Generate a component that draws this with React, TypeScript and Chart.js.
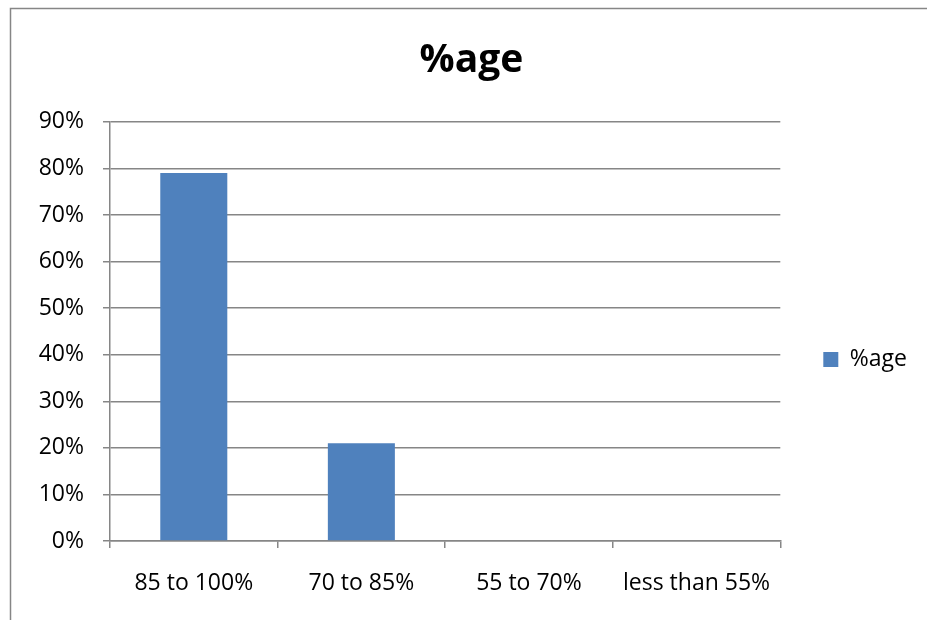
import React, { useEffect, useRef } from "react";
import { Chart, registerables } from "chart.js";

Chart.register(...registerables);

const categories = ["85 to 100%", "70 to 85%", "55 to 70%", "less than 55%"];
const seriesLabel = "%age";
const seriesValues = [79, 21, 0, 0];
const yTicks = [0, 10, 20, 30, 40, 50, 60, 70, 80, 90];

const GREY = "#868686";
const BAR = "#4F81BD";
const FONT = "'Open Sans', 'DejaVu Sans', sans-serif";

// Grey frame around the whole chart (only top and left edges fall inside the canvas)
const framePlugin = {
  id: "frame",
  beforeDraw(chart: any) {
    const { ctx, width, height } = chart;
    ctx.save();
    ctx.fillStyle = "#ffffff";
    ctx.fillRect(0, 0, width, height);
    ctx.strokeStyle = GREY;
    ctx.lineWidth = 1.5;
    ctx.beginPath();
    ctx.moveTo(10.5, height);
    ctx.lineTo(10.5, 8.5);
    ctx.lineTo(width, 8.5);
    ctx.stroke();
    ctx.restore();
  },
};

// Centre the title on the frame and the legend on the plot + label band
const placementPlugin = {
  id: "placement",
  afterLayout(chart: any) {
    const t = chart.titleBlock;
    if (t) {
      const w = t.right - t.left;
      t.left = 471.5 - w / 2;
      t.right = t.left + w;
    }
    const l = chart.legend;
    if (l) {
      const h = l.bottom - l.top;
      const target = 359.5;
      l.top = target - h / 2;
      l.bottom = l.top + h;
    }
  },
};

export default function App() {
  const ref = useRef<HTMLCanvasElement>(null);

  useEffect(() => {
    if (!ref.current) return;
    const chart = new Chart(ref.current, {
      type: "bar",
      data: {
        labels: categories,
        datasets: [
          {
            label: seriesLabel,
            data: seriesValues,
            backgroundColor: BAR,
            borderWidth: 0,
            barPercentage: 0.4,
            categoryPercentage: 1,
          },
        ],
      },
      plugins: [framePlugin, placementPlugin],
      options: {
        responsive: false,
        animation: false,
        layout: { padding: { left: 0, right: 10, top: 0, bottom: 0 } },
        plugins: {
          title: {
            display: true,
            text: "%age",
            color: "#000000",
            font: { family: FONT, size: 39, weight: "bold", lineHeight: 1.2 },
            padding: { top: 37, bottom: 38 },
          },
          legend: {
            display: true,
            position: "right",
            align: "center",
            labels: {
              boxWidth: 15,
              boxHeight: 15,
              padding: 43,
              color: "#000000",
              font: { family: FONT, size: 23 },
            },
          },
          tooltip: { enabled: false },
        },
        scales: {
          x: {
            grid: {
              display: true,
              offset: true,
              drawOnChartArea: false,
              drawTicks: true,
              tickLength: 7,
              color: GREY,
              lineWidth: 1.5,
            },
            border: { display: true, color: GREY, width: 1.5 },
            ticks: {
              color: "#000000",
              font: { family: FONT, size: 23 },
              padding: 22,
              maxRotation: 0,
              autoSkip: false,
            },
            afterFit(scale: any) {
              scale.height = 79;
            },
          },
          y: {
            min: 0,
            max: 90,
            afterBuildTicks(scale: any) {
              scale.ticks = yTicks.map((v) => ({ value: v }));
            },
            grid: {
              display: true,
              drawTicks: true,
              tickLength: 7,
              color: GREY,
              lineWidth: 1.5,
            },
            border: { display: true, color: GREY, width: 1.5 },
            ticks: {
              color: "#000000",
              font: { family: FONT, size: 23 },
              padding: 19,
              callback: (v: any) => `${v}%`,
            },
            afterFit(scale: any) {
              scale.width = 110;
            },
          },
        },
      },
    });
    return () => chart.destroy();
  }, []);

  return (
    <div style={{ position: "absolute", left: 0, top: 0, width: 927, height: 620 }}>
      <canvas ref={ref} width={927} height={620} style={{ display: "block" }} />
    </div>
  );
}
